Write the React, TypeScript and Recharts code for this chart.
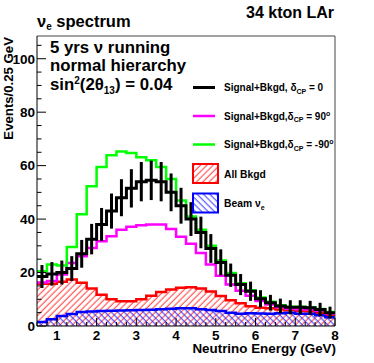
import React from "react";
import {
  ComposedChart,
  Line,
  Area,
  Scatter,
  ErrorBar,
  XAxis,
  YAxis,
  ReferenceLine,
} from "recharts";

// lower edges of the 0.25 GeV bins
const binLow = [
  0.5, 0.75, 1, 1.25, 1.5, 1.75, 2, 2.25, 2.5, 2.75, 3, 3.25, 3.5, 3.75, 4,
  4.25, 4.5, 4.75, 5, 5.25, 5.5, 5.75, 6, 6.25, 6.5, 6.75, 7, 7.25, 7.5, 7.75,
];
const BIN_W = 0.25;

// Signal+Bkgd, dCP = 0
const sigBkgCP0 = [
  18.5, 19.5, 20, 21.5, 27, 32.5, 38, 43, 48, 51.5, 54, 54.5, 54, 50, 45, 40,
  35, 29, 23.8, 19, 15.5, 13, 10.2, 8.7, 7.5, 7, 7, 6.8, 6.2, 5,
];
// Signal+Bkgd, dCP = 90
const sigBkgCP90 = [
  16.3, 16.8, 19.3, 23.6, 26.1, 29.2, 31.7, 33.6, 36, 37.1, 37.7, 38, 38, 36.3,
  33.4, 30.8, 27.3, 23, 18.8, 15.5, 13.2, 11.3, 9.4, 8, 7, 6.5, 6.3, 6.2, 5.7,
  4.6,
];
// Signal+Bkgd, dCP = -90
const sigBkgCPm90 = [
  20.5, 23, 22.6, 29.6, 41.8, 52.3, 59.5, 63.9, 65.3, 64.7, 63.1, 62, 59.5, 55,
  47, 41, 36, 30, 24.5, 19.8, 16, 13.4, 10.7, 9.1, 7.8, 7.2, 7.2, 7, 6.4, 5.2,
];
const allBkgd = [
  15.8, 15.8, 16.6, 17.4, 16.2, 14, 11.7, 10, 9.3, 9.3, 10, 11.3, 12.7, 13.7,
  14.3, 14.5, 14, 12.9, 11.2, 9.6, 8.5, 7.4, 6.8, 6.6, 6.2, 5.9, 5.6, 5.5, 5, 4,
];
const beamNue = [
  1.5, 2.5, 3.7, 4.5, 5.2, 5.4, 5.6, 5.7, 5.8, 5.9, 6, 6.1, 6.3, 6.5, 6.6, 6.6,
  6.3, 6, 5.6, 5, 4.6, 4.8, 4.7, 4.6, 4.8, 5, 4.6, 4.6, 4, 3.3,
];

const xTicks = [
  0.5, 0.75, 1, 1.25, 1.5, 1.75, 2, 2.25, 2.5, 2.75, 3, 3.25, 3.5, 3.75, 4,
  4.25, 4.5, 4.75, 5, 5.25, 5.5, 5.75, 6, 6.25, 6.5, 6.75, 7, 7.25, 7.5, 7.75, 8,
];
const yTicks = [
  0, 5, 10, 15, 20, 25, 30, 35, 40, 45, 50, 55, 60, 65, 70, 75, 80, 85, 90, 95,
  100, 105,
];

const FONT = '"Liberation Sans", Arial, Helvetica, sans-serif';

// step histograms need one extra point at the upper edge
const edgeData = [...binLow, binLow[binLow.length - 1] + BIN_W].map((x, i) => {
  const j = Math.min(i, binLow.length - 1);
  return {
    x,
    cp0: sigBkgCP0[j],
    cp90: sigBkgCP90[j],
    cpm90: sigBkgCPm90[j],
    bkg: allBkgd[j],
    beam: beamNue[j],
  };
});

const errData = binLow.map((lo, i) => ({
  x: lo + BIN_W / 2,
  y: sigBkgCP0[i],
  err: Math.sqrt(sigBkgCP0[i]),
}));

function YTick(props: any) {
  const { x, y, payload } = props;
  const v = payload.value;
  const major = v % 20 === 0;
  return (
    <g>
      <line x1={x} x2={x + (major ? 9 : 4.5)} y1={y} y2={y} stroke="#000" />
      {major && (
        <text
          x={x - 2}
          y={y}
          dy="0.36em"
          textAnchor="end"
          fontSize={13.5}
          fontWeight="bold"
          fontFamily={FONT}
          fill="#000"
        >
          {v}
        </text>
      )}
    </g>
  );
}

function XTick(props: any) {
  const { x, y, payload } = props;
  const v = payload.value;
  const major = Number.isInteger(v);
  return (
    <g>
      <line x1={x} x2={x} y1={y} y2={y - (major ? 8 : 4)} stroke="#000" />
      {major && (
        <text
          x={x}
          y={y + 13.5}
          textAnchor="middle"
          fontSize={13.5}
          fontWeight="bold"
          fontFamily={FONT}
          fill="#000"
        >
          {v}
        </text>
      )}
    </g>
  );
}

export default function App() {
  return (
    <div style={{ position: "absolute", left: 0, top: 0, width: 374, height: 363, background: "#fff" }}>
      <ComposedChart
        width={374}
        height={363}
        data={edgeData}
        margin={{ top: 36, right: 39, left: 0, bottom: 0 }}
      >
        <XAxis
          dataKey="x"
          type="number"
          domain={[0.5, 8]}
          ticks={xTicks}
          interval={0}
          height={37}
          tickSize={0}
          tickMargin={0}
          tickLine={false}
          tick={(p: any) => <XTick {...p} />}
          axisLine={{ stroke: "#000" }}
          allowDataOverflow
        />
        <YAxis
          type="number"
          domain={[0, 108.5]}
          ticks={yTicks}
          interval={0}
          width={37}
          tickSize={0}
          tickMargin={0}
          tickLine={false}
          tick={(p: any) => <YTick {...p} />}
          axisLine={{ stroke: "#000" }}
          allowDataOverflow
        />
        <ReferenceLine y={108.5} stroke="#444" />
        <ReferenceLine x={8} stroke="#444" />
        <Area
          dataKey="bkg"
          type="stepAfter"
          stroke="#ff0000"
          strokeWidth={2.5}
          fill="url(#hatchRed)"
          fillOpacity={1}
          dot={false}
          activeDot={false}
          isAnimationActive={false}
        />
        <Area
          dataKey="beam"
          type="stepAfter"
          stroke="#0000ff"
          strokeWidth={2.5}
          fill="url(#hatchBlue)"
          fillOpacity={1}
          dot={false}
          activeDot={false}
          isAnimationActive={false}
        />
        <Line dataKey="cp90" type="stepAfter" stroke="#ff00ff" strokeWidth={2.5} dot={false} isAnimationActive={false} />
        <Line dataKey="cpm90" type="stepAfter" stroke="#00ff00" strokeWidth={2.5} dot={false} isAnimationActive={false} />
        <Line dataKey="cp0" type="stepAfter" stroke="#000" strokeWidth={3} dot={false} isAnimationActive={false} />
        <Scatter data={errData} dataKey="y" shape={() => <g />} isAnimationActive={false}>
          <ErrorBar dataKey="err" direction="y" width={0} stroke="#000" strokeWidth={3} />
        </Scatter>
      </ComposedChart>

      <svg
        width={374}
        height={363}
        style={{ position: "absolute", left: 0, top: 0, pointerEvents: "none" }}
        fontFamily={FONT}
        fontWeight="bold"
      >
        <defs>
          <pattern id="hatchRed" patternUnits="userSpaceOnUse" width={4.5} height={4.5} patternTransform="rotate(45)">
            <line x1={2} y1={0} x2={2} y2={4.5} stroke="#ff2020" strokeWidth={0.9} />
          </pattern>
          <pattern id="hatchBlue" patternUnits="userSpaceOnUse" width={4.5} height={4.5} patternTransform="rotate(-45)">
            <line x1={2} y1={0} x2={2} y2={4.5} stroke="#2020ff" strokeWidth={0.9} />
          </pattern>
        </defs>

        <text x={37} y={26.5} fontSize={16.5}>
          ν<tspan fontSize={10} dy={3}>e</tspan>
          <tspan dy={-3}> spectrum</tspan>
        </text>
        <text x={334} y={17.5} fontSize={16} textAnchor="end">
          34 kton LAr
        </text>

        <text x={50} y={52.5} fontSize={16.8}>5 yrs ν running</text>
        <text x={50} y={70.5} fontSize={16.8}>normal hierarchy</text>
        <text x={50} y={89.5} fontSize={16.8}>
          sin<tspan fontSize={10} dy={-6}>2</tspan>
          <tspan dy={6}>(2θ</tspan>
          <tspan fontSize={10} dy={4}>13</tspan>
          <tspan dy={-4}>) = 0.04</tspan>
        </text>

        <line x1={193} x2={215} y1={87.5} y2={87.5} stroke="#000" strokeWidth={3} />
        <text x={224} y={91} fontSize={10}>
          Signal+Bkgd, δ<tspan fontSize={7} dy={2.5}>CP</tspan>
          <tspan dy={-2.5}> = 0</tspan>
        </text>

        <line x1={193} x2={215} y1={116} y2={116} stroke="#ff00ff" strokeWidth={2.5} />
        <text x={224} y={119.5} fontSize={10}>
          Signal+Bkgd,δ<tspan fontSize={7} dy={2.5}>CP</tspan>
          <tspan dy={-2.5}> = 90</tspan>
          <tspan fontSize={7} dy={-4}>o</tspan>
        </text>

        <line x1={193} x2={215} y1={144.5} y2={144.5} stroke="#00ff00" strokeWidth={2.5} />
        <text x={224} y={148} fontSize={10}>
          Signal+Bkgd,δ<tspan fontSize={7} dy={2.5}>CP</tspan>
          <tspan dy={-2.5}> = -90</tspan>
          <tspan fontSize={7} dy={-4}>o</tspan>
        </text>

        <rect x={193} y={164} width={25} height={19} fill="url(#hatchRed)" stroke="#ff0000" strokeWidth={2} />
        <text x={224} y={177.5} fontSize={10.3}>All Bkgd</text>

        <rect x={193} y={193.5} width={25} height={19} fill="url(#hatchBlue)" stroke="#0000ff" strokeWidth={2} />
        <text x={224} y={207} fontSize={10.3}>
          Beam ν<tspan fontSize={7} dy={2.5}>e</tspan>
        </text>

        <text x={336} y={353} fontSize={13.4} textAnchor="end">
          Neutrino Energy (GeV)
        </text>
        <text x={13} y={37} fontSize={13.2} textAnchor="end" transform="rotate(-90 13 37)">
          Events/0.25 GeV
        </text>
      </svg>
    </div>
  );
}
